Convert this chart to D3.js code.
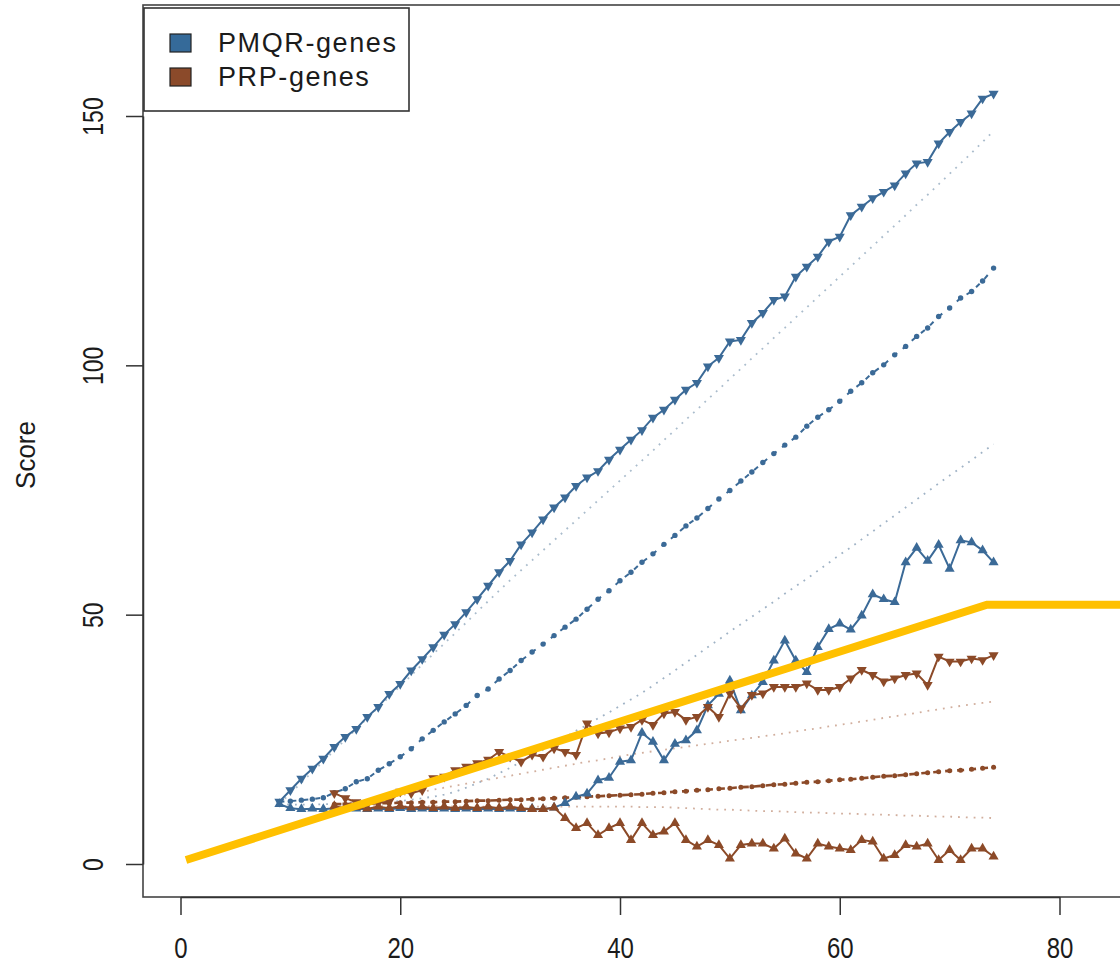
<!DOCTYPE html>
<html>
<head>
<meta charset="utf-8">
<script src="https://cdn.jsdelivr.net/npm/d3@7/dist/d3.min.js"></script>
<style>
  body { margin: 0; background: #fff; }
  svg  { display: block; font-family: "Liberation Sans", Arial, sans-serif; }
</style>
</head>
<body>
<svg id="chart" width="1120" height="966"></svg>
<script>
// x positions (genome count) for the two gene sets
const pmqrX = d3.range(9, 75);
const prpX  = d3.range(14, 75);

// PMQR-genes
const pmqrHigh = [12.5,14.8,17.1,19.1,21.1,23.5,25.5,27.1,29.5,31.5,34.1,36.1,38.8,41.1,43.5,46.0,48.1,50.5,
  53.1,55.8,58.5,60.8,64.1,66.5,69.1,71.5,73.5,75.8,77.5,78.8,81.1,83.1,85.1,87.0,89.5,91.1,93.1,95.1,96.5,
  99.8,101.5,104.8,105.1,108.5,110.5,113.1,113.8,117.8,119.8,121.8,124.8,125.8,130.1,131.8,133.5,134.8,136.1,
  138.5,140.5,140.8,144.5,146.8,148.8,150.5,153.5,154.5];
const pmqrHighRef = [12.0,14.2,16.3,18.5,20.6,22.8,24.9,27.1,29.2,31.4,33.5,35.7,37.8,40.0,42.1,44.2,46.3,48.4,
  50.6,52.7,54.8,56.9,58.9,60.9,62.9,64.9,66.9,68.9,70.9,72.9,74.9,76.9,78.9,80.9,82.9,85.0,87.0,89.1,91.1,
  93.2,95.2,97.3,99.3,101.4,103.4,105.5,107.5,109.6,111.6,113.7,115.7,117.8,119.8,121.9,123.9,126.0,128.0,
  130.1,132.2,134.2,136.3,138.4,140.5,142.6,144.8,147.0];
const pmqrMid = [12.5,12.6,12.8,13.0,13.3,14.3,15.1,16.5,17.1,18.8,20.1,21.5,23.1,25.1,26.8,28.5,30.1,31.8,33.8,
  35.1,37.1,38.8,40.8,42.5,44.1,45.8,47.5,49.1,51.1,53.1,54.8,56.8,58.5,60.5,62.2,64.1,65.9,67.8,69.4,71.3,
  73.2,74.9,76.8,78.6,80.5,82.3,84.0,85.6,87.8,89.6,91.1,92.8,94.8,96.5,98.5,100.1,102.1,103.8,105.8,107.5,
  109.8,111.5,113.5,114.8,116.9,119.5];
const pmqrLowRef = [12.0,11.9,11.9,11.9,12.0,12.0,12.1,12.2,12.3,12.4,12.5,12.6,12.9,13.2,13.5,13.9,14.5,15.3,
  16.2,17.1,18.2,19.3,20.5,21.7,22.9,24.2,25.4,26.7,27.9,29.2,30.4,31.7,33.0,34.3,35.8,37.3,38.8,40.4,41.9,
  43.5,45.0,46.6,48.1,49.6,51.1,52.6,54.2,55.7,57.2,58.8,60.4,62.0,63.5,65.1,66.7,68.3,69.9,71.5,73.1,74.7,
  76.3,77.9,79.4,81.0,82.6,84.2];
const pmqrLow = [12.0,11.2,11.0,11.1,11.0,11.2,11.0,11.1,11.0,11.1,11.0,11.2,11.0,11.1,11.0,11.1,11.0,11.1,
  11.0,11.1,11.0,11.1,11.0,11.1,11.0,11.3,12.2,13.5,14.1,16.8,17.3,20.5,20.8,26.3,24.5,20.8,24.1,24.8,26.8,
  31.8,34.1,36.8,30.8,33.8,36.5,40.8,44.8,40.8,38.5,43.5,47.1,48.2,47.0,49.8,54.1,53.1,52.5,60.5,63.4,60.8,
  64.0,59.2,64.9,64.5,62.9,60.5];

// PRP-genes
const prpHigh = [14.2,13.2,12.4,12.0,12.3,12.5,14.5,14.2,14.8,17.2,17.5,18.8,19.5,20.2,20.9,22.5,21.5,20.5,
  21.9,21.5,23.2,22.5,21.9,28.2,26.2,26.4,27.2,27.5,28.9,27.9,30.2,30.5,28.9,29.5,31.5,29.5,34.2,31.2,33.9,
  34.2,35.5,35.5,35.5,36.2,34.9,34.9,35.5,37.2,38.9,37.9,36.6,37.2,37.9,38.2,35.9,41.6,40.6,40.6,41.2,40.9,41.9];
const prpHighRef = [12.0,12.2,12.5,12.8,13.1,13.4,13.8,14.1,14.5,14.9,15.3,15.7,16.1,16.5,16.9,17.3,17.7,18.1,
  18.5,18.9,19.3,19.7,20.1,20.5,20.8,21.2,21.6,22.0,22.3,22.6,22.9,23.2,23.5,23.8,24.1,24.4,24.7,25.0,25.3,
  25.6,25.9,26.2,26.6,26.9,27.2,27.6,27.9,28.2,28.6,28.9,29.3,29.6,30.0,30.3,30.7,31.0,31.4,31.7,32.0,32.3,32.6];
const prpMid = [12.0,12.0,12.1,12.1,12.2,12.2,12.3,12.3,12.4,12.4,12.5,12.5,12.6,12.7,12.7,12.8,12.9,12.9,13.0,
  13.1,13.2,13.3,13.4,13.5,13.6,13.7,13.8,13.9,14.0,14.2,14.3,14.5,14.6,14.8,14.9,15.1,15.2,15.4,15.5,15.7,
  15.9,16.0,16.2,16.4,16.5,16.7,16.9,17.0,17.2,17.4,17.6,17.7,17.9,18.1,18.3,18.5,18.7,18.8,19.0,19.2,19.4];
const prpLowRef = [11.7,11.7,11.7,11.6,11.6,11.6,11.6,11.6,11.6,11.6,11.6,11.5,11.5,11.5,11.5,11.5,11.5,
  11.5,11.5,11.5,11.5,11.5,11.5,11.5,11.5,11.5,11.5,11.5,11.4,11.4,11.4,11.3,11.2,11.1,11.0,10.9,10.9,10.8,
  10.7,10.6,10.6,10.5,10.4,10.3,10.3,10.2,10.1,10.1,10.0,9.9,9.9,9.8,9.7,9.7,9.6,9.5,9.5,9.4,9.3,9.3,9.2];
const prpLow = [11.6,11.2,11.4,11.1,11.5,11.2,11.6,11.3,11.5,11.2,11.5,11.2,11.5,11.2,11.5,11.2,11.5,11.2,
  11.0,11.0,11.3,9.2,7.2,8.2,5.8,7.2,8.2,4.8,8.2,5.8,6.5,8.2,4.8,3.5,4.8,3.8,1.1,3.8,4.1,4.1,3.1,5.1,2.1,1.1,
  4.1,3.5,3.1,2.8,4.8,4.5,1.1,1.8,3.8,3.5,4.1,0.8,2.8,0.8,3.1,3.1,1.5];

// yellow overlay
const trendX = [0.5, 73.4, 86];
const trendY = [0.8, 52.0, 52.0];

const xTicks = [0, 20, 40, 60, 80];
const yTicks = [0, 50, 100, 150];
const legendNames = ["PMQR-genes", "PRP-genes"];

const BLUE   = "#3b6a97";
const BROWN  = "#8c4a28";
const BLUE_L = "#8ea5bb";
const BROWN_L= "#c9a08c";
const GOLD   = "#ffc000";
const FONT   = "'Liberation Sans', Arial, sans-serif";

const BOX = { left: 143, top: 5, right: 1140, bottom: 897 };

const svg = d3.select("#chart");
const x = d3.scaleLinear().domain([0, 80]).range([180.5, 1059.5]);
const y = d3.scaleLinear().domain([0, 150]).range([864, 116]);

const line = d3.line().x(d => x(d[0])).y(d => y(d[1]));
const plot = svg.append("g");

function drawSeries(xs, ys, o) {
  const pts = xs.map((v, i) => [v, ys[i]]);
  plot.append("path")
    .datum(pts)
    .attr("fill", "none")
    .attr("stroke", o.color)
    .attr("stroke-width", o.width)
    .attr("stroke-dasharray", o.dash || null)
    .attr("stroke-opacity", o.opacity || 1)
    .attr("d", line);

  if (o.marker === "dot") {
    plot.selectAll(null).data(pts).enter().append("circle")
      .attr("cx", d => x(d[0])).attr("cy", d => y(d[1]))
      .attr("r", o.r || 2.5).attr("fill", o.color);
  } else if (o.marker) {
    const tri = d3.symbol(d3.symbolTriangle, 44)();
    plot.selectAll(null).data(pts).enter().append("path")
      .attr("d", tri)
      .attr("fill", o.color)
      .attr("transform", d => `translate(${x(d[0])},${y(d[1])})` + (o.marker === "down" ? " rotate(180)" : ""));
  }
}

// reference (dotted) lines first
drawSeries(pmqrX, pmqrHighRef, { color: BLUE_L,  width: 1.8, dash: "1.8,6", opacity: 0.75 });
drawSeries(pmqrX, pmqrLowRef,  { color: BLUE_L,  width: 1.8, dash: "1.8,6", opacity: 0.85 });
drawSeries(prpX,  prpHighRef,  { color: BROWN_L, width: 1.8, dash: "1.8,6", opacity: 0.85 });
drawSeries(prpX,  prpLowRef,   { color: BROWN_L, width: 1.8, dash: "1.8,6", opacity: 0.85 });

// dashed middle lines
drawSeries(pmqrX, pmqrMid, { color: BLUE,  width: 2,   dash: "5,7", marker: "dot", r: 2.7 });
drawSeries(prpX,  prpMid,  { color: BROWN, width: 2.6, dash: "7,5", marker: "dot", r: 2.5 });

// solid lines with triangles
drawSeries(pmqrX, pmqrHigh, { color: BLUE,  width: 2, marker: "down" });
drawSeries(pmqrX, pmqrLow,  { color: BLUE,  width: 2, marker: "up" });
drawSeries(prpX,  prpHigh,  { color: BROWN, width: 2, marker: "down" });
drawSeries(prpX,  prpLow,   { color: BROWN, width: 2, marker: "up" });

// thick yellow line on top
plot.append("path")
  .datum(trendX.map((v, i) => [v, trendY[i]]))
  .attr("fill", "none")
  .attr("stroke", GOLD)
  .attr("stroke-width", 8)
  .attr("stroke-linejoin", "miter")
  .attr("d", line);

// box
svg.append("rect")
  .attr("x", BOX.left).attr("y", BOX.top)
  .attr("width", BOX.right - BOX.left).attr("height", BOX.bottom - BOX.top)
  .attr("fill", "none").attr("stroke", "#444").attr("stroke-width", 1.6);

// axes (labels drawn by hand to get the tall, narrow R look)
const xAxis = svg.append("g")
  .attr("transform", `translate(0,${BOX.bottom})`)
  .call(d3.axisBottom(x).tickValues(xTicks).tickSize(18).tickSizeOuter(0));
xAxis.selectAll("text").remove();
xAxis.selectAll(".tick").append("text")
  .attr("transform", "translate(0,61) scale(1,1.2)")
  .attr("text-anchor", "middle")
  .attr("font-size", 24)
  .attr("font-family", FONT)
  .attr("fill", "#1b1b1b")
  .text(d => d);

const yAxis = svg.append("g")
  .attr("transform", `translate(${BOX.left},0)`)
  .call(d3.axisLeft(y).tickValues(yTicks).tickSize(17).tickSizeOuter(0));
yAxis.selectAll("text").remove();
yAxis.selectAll(".tick").append("text")
  .attr("transform", "translate(-40,0) rotate(-90) scale(1,1.28)")
  .attr("text-anchor", "middle")
  .attr("font-size", 23)
  .attr("fill", "#1b1b1b")
  .attr("font-family", FONT)
  .text(d => d);

svg.selectAll(".domain, .tick line").attr("stroke", "#333").attr("stroke-width", 1.5);

svg.append("text")
  .attr("transform", "translate(35,455) rotate(-90) scale(1,1.08)")
  .attr("text-anchor", "middle")
  .attr("font-size", 26)
  .attr("fill", "#1b1b1b")
  .text("Score");

// legend
const legend = svg.append("g");
legend.append("rect")
  .attr("x", 144).attr("y", 8).attr("width", 265).attr("height", 103)
  .attr("fill", "#fff").attr("stroke", "#333").attr("stroke-width", 1.6);
const items = legend.selectAll("g.item")
  .data(legendNames)
  .enter().append("g")
    .attr("class", "item")
    .attr("transform", (d, i) => `translate(0,${i * 34})`);
items.append("rect")
  .attr("x", 170).attr("y", 34).attr("width", 21).attr("height", 18)
  .attr("fill", (d, i) => i === 0 ? "#356a99" : "#8b4a2a")
  .attr("stroke", "#222").attr("stroke-width", 1.2);
items.append("text")
  .attr("x", 218).attr("y", 52)
  .attr("font-size", 27)
  .attr("letter-spacing", 1.6)
  .attr("fill", "#1b1b1b")
  .text(d => d);
</script>
</body>
</html>
